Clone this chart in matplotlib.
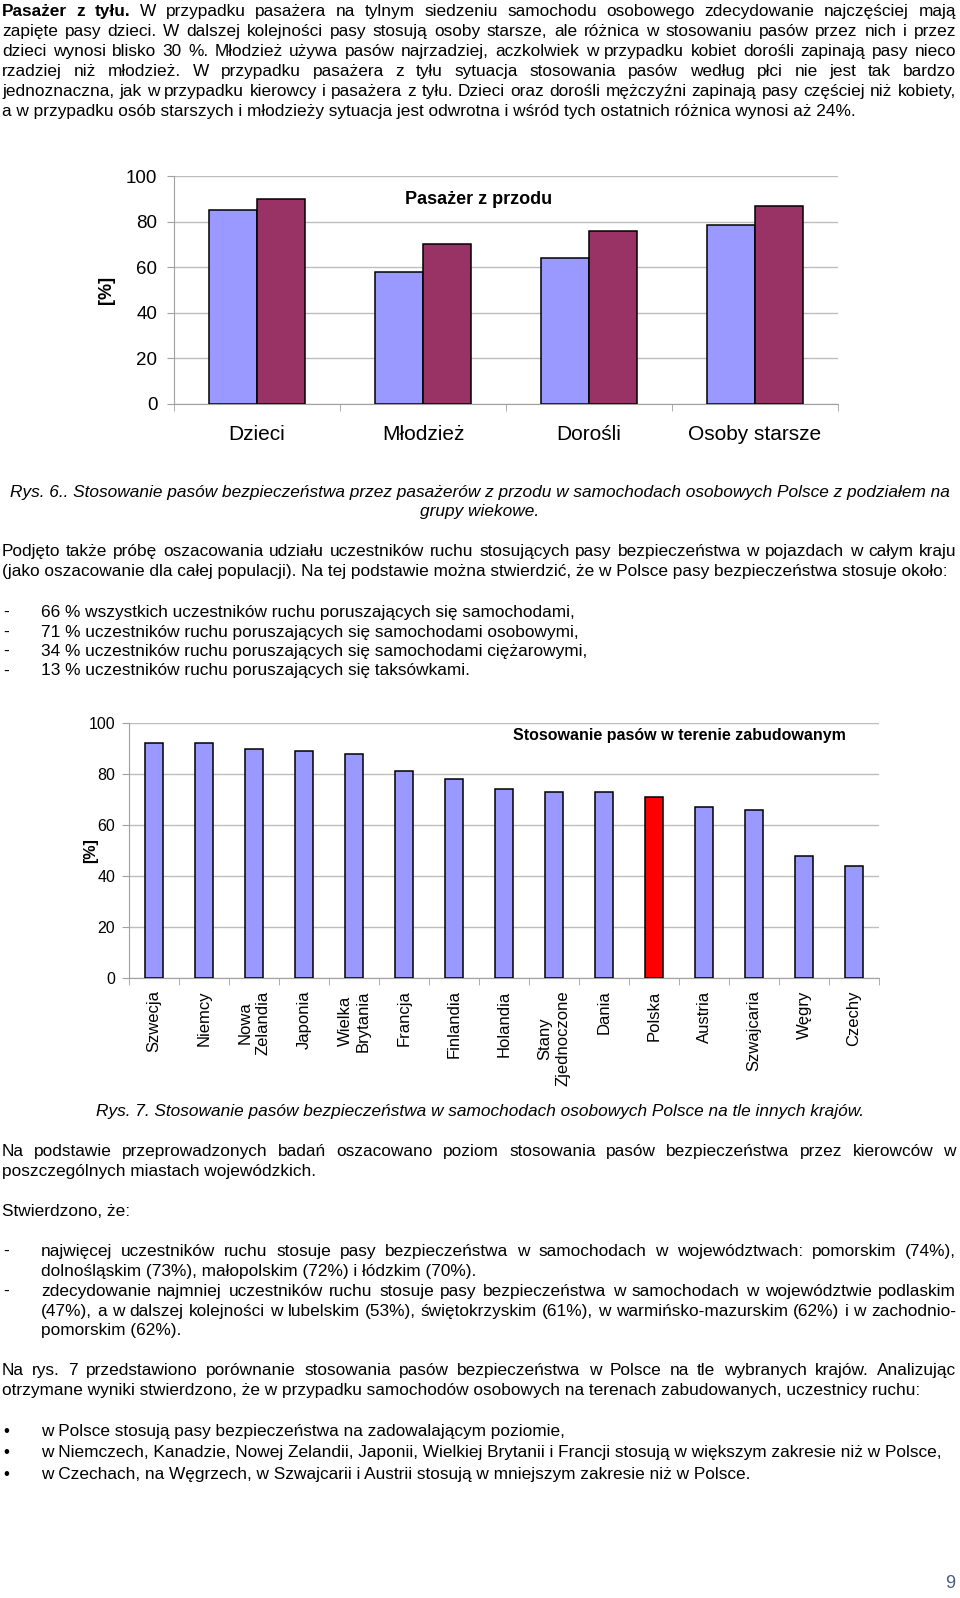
import matplotlib
matplotlib.use("Agg")
import matplotlib.pyplot as plt
import numpy as np

W, H = 960, 1598
plt.rcParams['font.family'] = ['Liberation Sans', 'DejaVu Sans']

# --- chart data (Rys. 6) ---
age_groups = ["Dzieci", "Młodzież", "Dorośli", "Osoby starsze"]
front_blue = [85, 58, 64, 78.5]
front_red = [90, 70, 76, 87]

# --- chart data (Rys. 7) ---
countries = ["Szwecja", "Niemcy", "Nowa\nZelandia", "Japonia", "Wielka\nBrytania",
             "Francja", "Finlandia", "Holandia", "Stany\nZjednoczone", "Dania",
             "Polska", "Austria", "Szwajcaria", "Węgry", "Czechy"]
belt_usage = [92, 92, 90, 89, 88, 81, 78, 74, 73, 73, 71, 67, 66, 48, 44]
highlight = "Polska"

BLUE = "#9999ff"
MAROON = "#993366"
GRID = "#bdbdbd"
AXC = "#a0a0a0"
BODY = 12.4
BASE = 6  # px from visual line centre down to the baseline

fig = plt.figure(figsize=(W / 100, H / 100), dpi=100)
renderer = fig.canvas.get_renderer()


def fx(x):
    return x / W


def fy(y):
    return 1 - y / H


def line(y, text, x0=2, x1=956, justify=False, bold_words=0, style="normal"):
    """Put one line of body text; justified lines are spread word by word."""
    yb = fy(y + BASE)
    if not justify and bold_words == 0:
        fig.text(fx(x0), yb, text, fontsize=BODY, va="baseline", ha="left", style=style)
        return
    words = text.split(" ")
    objs = [fig.text(0, yb, w, fontsize=BODY, va="baseline", ha="left", style=style,
                     fontweight="bold" if i < bold_words else "normal")
            for i, w in enumerate(words)]
    widths = [t.get_window_extent(renderer).width for t in objs]
    if justify:
        gap = (x1 - x0 - sum(widths)) / (len(words) - 1)
    else:
        gap = 0.278 * BODY * 100 / 72
    x = x0
    for t, w in zip(objs, widths):
        t.set_x(fx(x))
        x += w + gap


def centered(y, text, style="italic"):
    fig.text(fx(480), fy(y + BASE), text, fontsize=BODY, va="baseline", ha="center", style=style)


# ---------------- text above chart 1 ----------------
par1 = [
    "Pasażer z tyłu. W przypadku pasażera na tylnym siedzeniu samochodu osobowego zdecydowanie najczęściej mają",
    "zapięte pasy dzieci. W dalszej kolejności pasy stosują osoby starsze, ale różnica w stosowaniu pasów przez nich i przez",
    "dzieci wynosi blisko 30 %. Młodzież używa pasów najrzadziej, aczkolwiek w przypadku kobiet dorośli zapinają pasy nieco",
    "rzadziej niż młodzież. W przypadku pasażera z tyłu sytuacja stosowania pasów według płci nie jest tak bardzo",
    "jednoznaczna, jak w przypadku kierowcy i pasażera z tyłu. Dzieci oraz dorośli mężczyźni zapinają pasy częściej niż kobiety,",
    "a w przypadku osób starszych i młodzieży sytuacja jest odwrotna i wśród tych ostatnich różnica wynosi aż 24%.",
]
for i, txt in enumerate(par1):
    last = i == len(par1) - 1
    line(10 + 20 * i, txt, justify=not last, bold_words=3 if i == 0 else 0)

# ---------------- chart 1 ----------------
ax1 = fig.add_axes([fx(174), fy(404), (838 - 174) / W, (404 - 176) / H])
x = np.arange(len(age_groups))
bw = 0.287
ax1.bar(x - bw / 2, front_blue, bw, color=BLUE, edgecolor="black", linewidth=1.1, zorder=3)
ax1.bar(x + bw / 2, front_red, bw, color=MAROON, edgecolor="black", linewidth=1.1, zorder=3)
ax1.set_xlim(-0.5, len(age_groups) - 0.5)
ax1.set_ylim(0, 100)
ax1.set_yticks(range(0, 101, 20))
ax1.grid(axis="y", color=GRID, linewidth=1.0, zorder=0)
ax1.set_axisbelow(True)
for s in ["top", "right"]:
    ax1.spines[s].set_visible(False)
for s in ["left", "bottom"]:
    ax1.spines[s].set_color(AXC)
ax1.set_xticks(x)
ax1.set_xticklabels(age_groups, fontsize=15)
ax1.set_xticks(np.arange(-0.5, len(age_groups)), minor=True)
ax1.tick_params(axis="x", which="major", length=0, pad=15)
ax1.tick_params(axis="x", which="minor", length=5, color=AXC)
ax1.tick_params(axis="y", length=5, color=AXC, labelsize=13.5, pad=7)
fig.text(fx(107), fy(290), "[%]", rotation=90, fontsize=13, fontweight="bold",
         ha="center", va="center")
fig.text(fx(479), fy(199), "Pasażer z przodu", fontsize=13, fontweight="bold",
         ha="center", va="center")

# ---------------- text between charts ----------------
centered(491, "Rys. 6.. Stosowanie pasów bezpieczeństwa przez pasażerów z przodu w samochodach osobowych Polsce z podziałem na")
centered(510, "grupy wiekowe.")
line(550, "Podjęto także próbę oszacowania udziału uczestników ruchu stosujących pasy bezpieczeństwa w pojazdach w całym kraju", justify=True)
line(570, "(jako oszacowanie dla całej populacji). Na tej podstawie można stwierdzić, że w Polsce pasy bezpieczeństwa stosuje około:")
items = [
    "66 % wszystkich uczestników ruchu poruszających się samochodami,",
    "71 % uczestników ruchu poruszających się samochodami osobowymi,",
    "34 % uczestników ruchu poruszających się samochodami ciężarowymi,",
    "13 % uczestników ruchu poruszających się taksówkami.",
]
for i, txt in enumerate(items):
    yy = 611 + 19.5 * i
    line(yy, "-", x0=3)
    line(yy, txt, x0=41)

# ---------------- chart 2 ----------------
ax2 = fig.add_axes([fx(129), fy(978), (879 - 129) / W, (978 - 723) / H])
xc = np.arange(len(countries))
colors = ["#ff0000" if c == highlight else BLUE for c in countries]
ax2.bar(xc, belt_usage, 0.36, color=colors, edgecolor="black", linewidth=1.1, zorder=3)
ax2.set_xlim(-0.5, len(countries) - 0.5)
ax2.set_ylim(0, 100)
ax2.set_yticks(range(0, 101, 20))
ax2.grid(axis="y", color=GRID, linewidth=1.0, zorder=0)
ax2.set_axisbelow(True)
for s in ["top", "right"]:
    ax2.spines[s].set_visible(False)
for s in ["left", "bottom"]:
    ax2.spines[s].set_color(AXC)
ax2.set_xticks(xc)
ax2.set_xticklabels(countries, rotation=90, fontsize=12, linespacing=1.25)
ax2.set_xticks(np.arange(-0.5, len(countries)), minor=True)
ax2.tick_params(axis="x", which="major", length=0, pad=9)
ax2.tick_params(axis="x", which="minor", length=5, color=AXC)
ax2.tick_params(axis="y", length=5, color=AXC, labelsize=11.5, pad=5)
fig.text(fx(91), fy(851), "[%]", rotation=90, fontsize=11.5, fontweight="bold",
         ha="center", va="center")
fig.text(fx(846), fy(736), "Stosowanie pasów w terenie zabudowanym", fontsize=11.5,
         fontweight="bold", ha="right", va="center")

# ---------------- text below chart 2 ----------------
centered(1110, "Rys. 7. Stosowanie pasów bezpieczeństwa w samochodach osobowych Polsce na tle innych krajów.")
line(1150, "Na podstawie przeprowadzonych badań oszacowano poziom stosowania pasów bezpieczeństwa przez kierowców w", justify=True)
line(1170, "poszczególnych miastach wojewódzkich.")
line(1210, "Stwierdzono, że:")

line(1250, "-", x0=3)
line(1250, "najwięcej uczestników ruchu stosuje pasy bezpieczeństwa w samochodach w województwach: pomorskim (74%),", x0=41, justify=True)
line(1270, "dolnośląskim (73%), małopolskim (72%) i łódzkim (70%).", x0=41)
line(1290, "-", x0=3)
line(1290, "zdecydowanie najmniej uczestników ruchu stosuje pasy bezpieczeństwa w samochodach w województwie podlaskim", x0=41, justify=True)
line(1310, "(47%), a w dalszej kolejności w lubelskim (53%), świętokrzyskim (61%), w warmińsko-mazurskim (62%) i w zachodnio-", x0=41, justify=True)
line(1329, "pomorskim (62%).", x0=41)

line(1369, "Na rys. 7 przedstawiono porównanie stosowania pasów bezpieczeństwa w Polsce na tle wybranych krajów. Analizując", justify=True)
line(1389, "otrzymane wyniki stwierdzono, że w przypadku samochodów osobowych na terenach zabudowanych, uczestnicy ruchu:")

bullets = [
    "w Polsce stosują pasy bezpieczeństwa na zadowalającym poziomie,",
    "w Niemczech, Kanadzie, Nowej Zelandii, Japonii, Wielkiej Brytanii i Francji stosują w większym zakresie niż w Polsce,",
    "w Czechach, na Węgrzech, w Szwajcarii i Austrii stosują w mniejszym zakresie niż w Polsce.",
]
for i, txt in enumerate(bullets):
    yy = 1430 + 21.5 * i
    line(yy, "•", x0=3)
    line(yy, txt, x0=41)

fig.text(fx(950), fy(1583), "9", fontsize=13, color="#4d5d80", ha="center", va="center")

fig.savefig("out.png", dpi=100)
